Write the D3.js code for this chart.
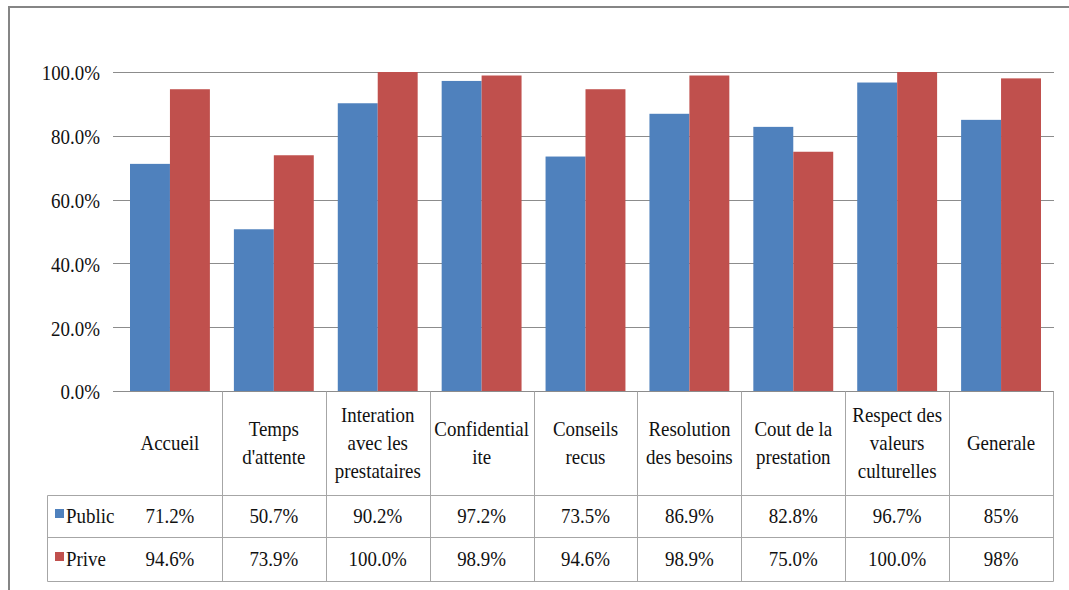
<!DOCTYPE html>
<html>
<head>
<meta charset="utf-8">
<script src="https://cdn.jsdelivr.net/npm/d3@7"></script>
<style>
  html, body { margin: 0; padding: 0; background: #fff; }
  svg { display: block; }
</style>
</head>
<body>
<svg id="chart" width="1069" height="590"></svg>
<script>
// Satisfaction by criterion, public vs private facilities (percent)
const categories = ["Accueil", "Temps d'attente", "Interation avec les prestataires",
  "Confidentialite", "Conseils recus", "Resolution des besoins",
  "Cout de la prestation", "Respect des valeurs culturelles", "Generale"];
const categoryLines = [
  ["Accueil"],
  ["Temps", "d'attente"],
  ["Interation", "avec les", "prestataires"],
  ["Confidential", "ite"],
  ["Conseils", "recus"],
  ["Resolution", "des besoins"],
  ["Cout de la", "prestation"],
  ["Respect des", "valeurs", "culturelles"],
  ["Generale"]
];
const publicValues = [71.2, 50.7, 90.2, 97.2, 73.5, 86.9, 82.8, 96.7, 85];
const priveValues  = [94.6, 73.9, 100.0, 98.9, 94.6, 98.9, 75.0, 100.0, 98];
const labelDecimals = [1, 1, 1, 1, 1, 1, 1, 1, 0];
const seriesNames = ["Public", "Prive"];
const seriesColors = ["#4F81BD", "#C0504D"];
const yTicks = [0, 20, 40, 60, 80, 100];

const svg = d3.select("#chart");
const FS = 22, SX = 0.86;   // serif text, condensed horizontally

function label(sel, x, y, str, anchor) {
  const t = sel.append("text")
    .attr("x", x).attr("y", y + FS * 0.34)
    .attr("text-anchor", anchor || "middle")
    .attr("font-family", "Liberation Serif")
    .attr("font-size", FS)
    .attr("fill", "#111")
    .text(str);
  const w = t.node().getComputedTextLength();
  if (w > 0) t.attr("textLength", (w * SX).toFixed(1)).attr("lengthAdjust", "spacingAndGlyphs");
  return t;
}

// outer chart frame
svg.append("rect")
  .attr("x", 9).attr("y", 7).attr("width", 1100).attr("height", 620)
  .attr("fill", "none").attr("stroke", "#858585").attr("stroke-width", 2);

const x0 = d3.scaleBand().domain(categories).range([118, 1053]);
const x1 = d3.scaleBand().domain(seriesNames).range([12, x0.bandwidth() - 12]);
const y = d3.scaleLinear().domain([0, 100]).range([391, 72]);

// gridlines
svg.append("g").selectAll("line").data(yTicks).join("line")
  .attr("x1", 113).attr("x2", 1054)
  .attr("y1", d => Math.round(y(d)) + 0.5).attr("y2", d => Math.round(y(d)) + 0.5)
  .attr("stroke", "#8c8c8c").attr("stroke-width", 1);

// y tick labels
const fmtTick = d3.format(".1f");
yTicks.forEach(t => label(svg, 100, y(t) + 1, fmtTick(t) + "%", "end"));

// bars
const rows = categories.map((c, i) => ({ c, vals: [publicValues[i], priveValues[i]] }));
const grp = svg.append("g").selectAll("g").data(rows).join("g")
  .attr("transform", d => `translate(${x0(d.c)},0)`);
grp.selectAll("rect").data(d => d.vals.map((v, k) => ({ v, s: seriesNames[k], k }))).join("rect")
  .attr("x", d => x1(d.s))
  .attr("width", x1.bandwidth())
  .attr("y", d => y(d.v))
  .attr("height", d => y(0) - y(d.v))
  .attr("fill", d => seriesColors[d.k]);

// axis line redrawn on top of bars
svg.append("line")
  .attr("x1", 113).attr("x2", 1054).attr("y1", Math.round(y(0)) + 0.5).attr("y2", Math.round(y(0)) + 0.5)
  .attr("stroke", "#8c8c8c");

// data table
const tTop = Math.round(y(0)) + 0.5, r1 = 495.5, r2 = 537.5, r3 = 581.5, tLeft = 47.5;
const tbl = svg.append("g").attr("stroke", "#a6a6a6").attr("stroke-width", 1);
categories.forEach(c => {
  const xr = Math.round(x0(c) + x0.bandwidth()) + 0.5;
  tbl.append("line").attr("x1", xr).attr("x2", xr).attr("y1", tTop).attr("y2", r3);
});
tbl.append("line").attr("x1", tLeft).attr("x2", tLeft).attr("y1", r1).attr("y2", r3);
[r1, r2, r3].forEach(ry =>
  tbl.append("line").attr("x1", tLeft).attr("x2", Math.round(x0.range()[1]) + 0.5).attr("y1", ry).attr("y2", ry));

// header cells
const lineGap = 28, headMid = 443;
categoryLines.forEach((lines, i) => {
  const cx = x0(categories[i]) + x0.bandwidth() / 2;
  lines.forEach((ln, j) => {
    label(svg, cx, headMid + (j - (lines.length - 1) / 2) * lineGap, ln);
  });
});

// value rows with legend keys
const rowMid = [516, 559];
[publicValues, priveValues].forEach((vals, k) => {
  svg.append("rect").attr("x", 55).attr("y", rowMid[k] - 7).attr("width", 9).attr("height", 9)
    .attr("fill", seriesColors[k]);
  label(svg, 66, rowMid[k], seriesNames[k], "start");
  vals.forEach((v, i) => {
    const cx = x0(categories[i]) + x0.bandwidth() / 2;
    label(svg, cx, rowMid[k], d3.format("." + labelDecimals[i] + "f")(v) + "%");
  });
});
</script>
</body>
</html>
